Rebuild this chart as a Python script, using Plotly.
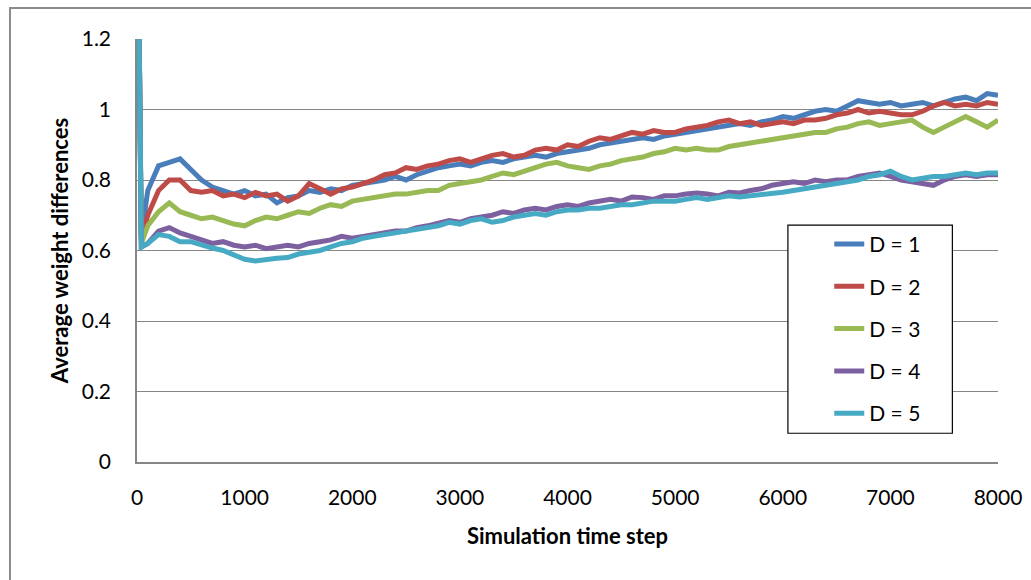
import plotly.graph_objects as go

# simulation time steps (0, 40, then every 100 steps up to 8000)
steps = [0, 40] + list(range(100, 8001, 100))

d1 = [1.8, 0.64,
      0.77, 0.84, 0.85, 0.86, 0.83, 0.80, 0.78, 0.77, 0.76, 0.77,
      0.755, 0.76, 0.735, 0.75, 0.755, 0.77, 0.765, 0.775, 0.77, 0.785,
      0.79, 0.795, 0.80, 0.81, 0.80, 0.815, 0.825, 0.835, 0.84, 0.845,
      0.84, 0.85, 0.855, 0.85, 0.86, 0.865, 0.87, 0.865, 0.875, 0.88,
      0.885, 0.89, 0.90, 0.905, 0.91, 0.915, 0.92, 0.915, 0.925, 0.93,
      0.935, 0.94, 0.945, 0.95, 0.955, 0.96, 0.955, 0.965, 0.97, 0.98,
      0.975, 0.985, 0.995, 1.0, 0.995, 1.01, 1.025, 1.02, 1.015, 1.02,
      1.01, 1.015, 1.02, 1.01, 1.02, 1.03, 1.035, 1.025, 1.045, 1.04]

d2 = [1.8, 0.63,
      0.70, 0.77, 0.80, 0.80, 0.77, 0.765, 0.77, 0.755, 0.76, 0.75,
      0.765, 0.755, 0.76, 0.74, 0.755, 0.79, 0.775, 0.76, 0.775, 0.78,
      0.79, 0.80, 0.815, 0.82, 0.835, 0.83, 0.84, 0.845, 0.855, 0.86,
      0.85, 0.86, 0.87, 0.875, 0.865, 0.87, 0.885, 0.89, 0.885, 0.90,
      0.895, 0.91, 0.92, 0.915, 0.925, 0.935, 0.93, 0.94, 0.935, 0.935,
      0.945, 0.95, 0.955, 0.965, 0.97, 0.96, 0.965, 0.955, 0.96, 0.965,
      0.96, 0.97, 0.97, 0.975, 0.985, 0.99, 1.0, 0.99, 0.995, 0.99,
      0.985, 0.985, 0.995, 1.01, 1.02, 1.01, 1.015, 1.01, 1.02, 1.015]

d3 = [1.8, 0.62,
      0.67, 0.71, 0.735, 0.71, 0.70, 0.69, 0.695, 0.685, 0.675, 0.67,
      0.685, 0.695, 0.69, 0.70, 0.71, 0.705, 0.72, 0.73, 0.725, 0.74,
      0.745, 0.75, 0.755, 0.76, 0.76, 0.765, 0.77, 0.77, 0.785, 0.79,
      0.795, 0.80, 0.81, 0.82, 0.815, 0.825, 0.835, 0.845, 0.85, 0.84,
      0.835, 0.83, 0.84, 0.845, 0.855, 0.86, 0.865, 0.875, 0.88, 0.89,
      0.885, 0.89, 0.885, 0.885, 0.895, 0.90, 0.905, 0.91, 0.915, 0.92,
      0.925, 0.93, 0.935, 0.935, 0.945, 0.95, 0.96, 0.965, 0.955, 0.96,
      0.965, 0.97, 0.95, 0.935, 0.95, 0.965, 0.98, 0.965, 0.95, 0.97]

d4 = [1.8, 0.61,
      0.62, 0.655, 0.665, 0.65, 0.64, 0.63, 0.62, 0.625, 0.615, 0.61,
      0.615, 0.605, 0.61, 0.615, 0.61, 0.62, 0.625, 0.63, 0.64, 0.635,
      0.64, 0.645, 0.65, 0.655, 0.655, 0.665, 0.67, 0.678, 0.685, 0.68,
      0.69, 0.695, 0.70, 0.71, 0.705, 0.715, 0.72, 0.715, 0.725, 0.73,
      0.725, 0.735, 0.74, 0.745, 0.74, 0.752, 0.75, 0.745, 0.755, 0.755,
      0.76, 0.763, 0.76, 0.755, 0.765, 0.763, 0.77, 0.775, 0.785, 0.79,
      0.795, 0.79, 0.80, 0.795, 0.80, 0.80, 0.81, 0.815, 0.82, 0.81,
      0.80, 0.795, 0.79, 0.785, 0.80, 0.81, 0.815, 0.81, 0.815, 0.815]

d5 = [1.8, 0.61,
      0.62, 0.645, 0.64, 0.625, 0.625, 0.615, 0.607, 0.60, 0.587, 0.575,
      0.57, 0.575, 0.578, 0.58, 0.59, 0.595, 0.60, 0.61, 0.62, 0.625,
      0.635, 0.64, 0.645, 0.65, 0.655, 0.66, 0.665, 0.67, 0.68, 0.675,
      0.685, 0.69, 0.68, 0.685, 0.695, 0.70, 0.705, 0.70, 0.71, 0.715,
      0.715, 0.72, 0.72, 0.725, 0.73, 0.73, 0.735, 0.74, 0.74, 0.74,
      0.745, 0.75, 0.745, 0.75, 0.755, 0.752, 0.755, 0.76, 0.76, 0.765,
      0.77, 0.775, 0.78, 0.785, 0.79, 0.795, 0.80, 0.81, 0.815, 0.825,
      0.81, 0.80, 0.805, 0.81, 0.81, 0.815, 0.82, 0.815, 0.82, 0.82]

series_names = ["D = 1", "D = 2", "D = 3", "D = 4", "D = 5"]
colors = ["#4A7EBB", "#BE4B48", "#98B954", "#7D60A0", "#46AAC5"]

y_ticks = [0, 0.2, 0.4, 0.6, 0.8, 1, 1.2]
y_labels = ["0", "0.2", "0.4", "0.6", "0.8", "1", "1.2"]
x_ticks = list(range(0, 8001, 1000))

fig = go.Figure()
for name, ys, col in zip(series_names, [d1, d2, d3, d4, d5], colors):
	fig.add_trace(go.Scatter(
		x=steps, y=ys, name=name, mode="lines", legendgroup=name,
		line=dict(color=col, width=5)
	))

fig.update_layout(
	width=1031, height=580,
	margin=dict(l=137, r=33, t=39, b=118, autoexpand=False),
	paper_bgcolor="white", plot_bgcolor="white",
	font=dict(family="Lato", size=21, color="#000000"),
	showlegend=True,
	legend=dict(
		x=0.804, y=0.563, xanchor="left", yanchor="top",
		bgcolor="rgba(0,0,0,0)", borderwidth=0,
		font=dict(size=21), tracegroupgap=12,
	),
	xaxis=dict(
		range=[0, 8000], tickvals=x_ticks, showgrid=False, automargin=False,
		showline=True, linecolor="#868686", linewidth=1.5,
		zeroline=False, ticks="", ticklabelstandoff=16,
		title=dict(text="<b>Simulation time step</b>", font=dict(size=22), standoff=21),
	),
	yaxis=dict(
		range=[0, 1.2], tickvals=y_ticks, ticktext=y_labels,
		showgrid=True, gridcolor="#868686", gridwidth=1.2, automargin=False,
		showline=True, linecolor="#868686", linewidth=1.5,
		zeroline=False, ticks="", ticklabelstandoff=20,
		title=dict(text="<b>Average weight differences</b>", font=dict(size=22), standoff=7),
	),
	shapes=[
		# outer chart frame
		dict(type="rect", xref="paper", yref="paper",
			x0=-0.1475, x1=1.06, y0=-0.32, y1=1.073,
			line=dict(color="#8C8C8C", width=2), layer="below"),
		# legend box
		dict(type="rect", xref="paper", yref="paper",
			x0=0.756, x1=0.947, y0=0.068, y1=0.560,
			line=dict(color="#000000", width=1.2), fillcolor="white", layer="above"),
	],
)

# page body has a default 8px margin; remove it so the chart sits at the window origin
fig.write_html("out.html", config={"displayModeBar": False},
	post_script="document.body.style.margin='0';")
